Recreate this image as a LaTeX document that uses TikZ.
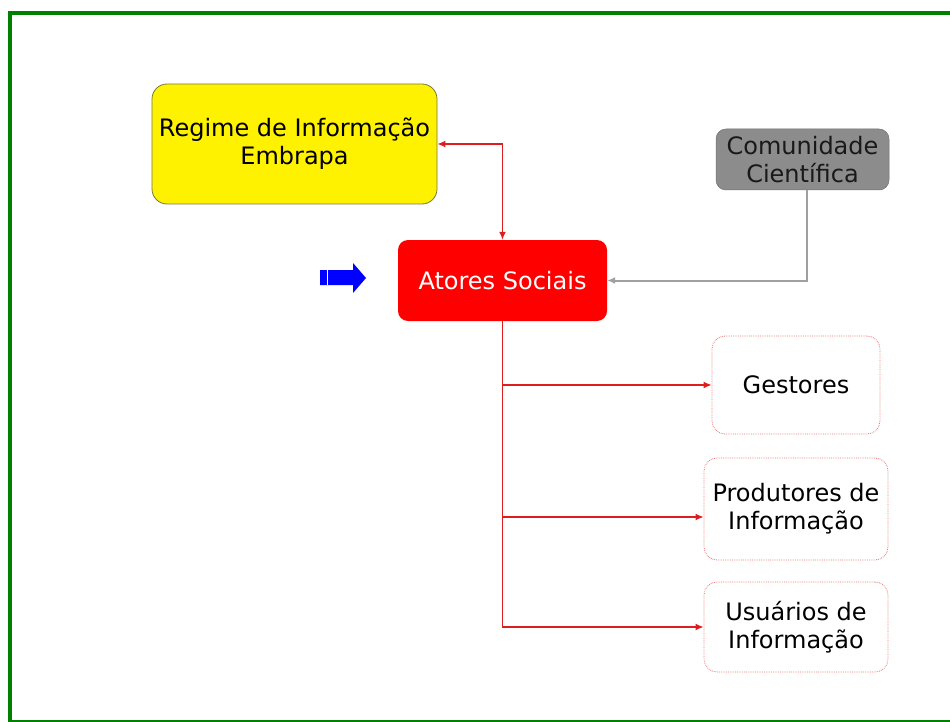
\documentclass[tikz,border=0pt]{standalone}
\usepackage{fontspec}
\setmainfont{DejaVu Sans}
\usetikzlibrary{arrows.meta}
\definecolor{frameGreen}{RGB}{0,128,0}
\definecolor{linkRed}{RGB}{222,30,30}
\definecolor{linkGray}{RGB}{160,160,160}
\definecolor{boxGray}{RGB}{140,140,140}
\definecolor{boxOlive}{RGB}{120,120,60}
\definecolor{dotRed}{RGB}{235,120,120}

\begin{document}
\begin{tikzpicture}[x=1pt, y=-1pt,
  every node/.style={font=\fontsize{24}{28}\selectfont, align=center, inner sep=0pt},
  regimebox/.style={draw=boxOlive, line width=0.8pt, fill=yellow, rounded corners=15pt},
  atorbox/.style={fill=red, text=white, rounded corners=10pt},
  comunbox/.style={draw=boxGray!80!black, line width=0.5pt, fill=boxGray, text=black!90, rounded corners=10pt},
  grupobox/.style={draw=dotRed, densely dotted, line width=0.8pt, rounded corners=13pt},
  redlink/.style={draw=linkRed, line width=1.4pt},
  graylink/.style={draw=linkGray, line width=2pt},
  tip/.style={-{Latex[length=8pt,width=7pt]}}]

  \useasboundingbox (0,0) rectangle (950,722);

  % frame
  \draw[frameGreen, line width=4pt] (8,13) -- (950,13);
  \draw[frameGreen, line width=4pt] (10,11) -- (10,722);
  \draw[frameGreen, line width=2pt] (8,721) -- (950,721);

  \node[regimebox, minimum width=285pt, minimum height=120pt] (regime) at (294.5,144) {Regime de Informação\\Embrapa};
  \node[atorbox, minimum width=209pt, minimum height=81pt] (atores) at (502.5,280.5) {Atores Sociais};
  \node[comunbox, minimum width=173pt, minimum height=61pt] (comun) at (802.5,159.5) {Comunidade\\Científica};

  \node[grupobox, minimum width=168pt, minimum height=98pt] (gestores) at (796,385) {Gestores};
  \node[grupobox, minimum width=184pt, minimum height=102pt] (produtores) at (796,509) {Produtores de\\Informação};
  \node[grupobox, minimum width=184pt, minimum height=90pt] (usuarios) at (796,627) {Usuários de\\Informação};

  % blue pointer
  \fill[blue] (320,270) -- (353,270) -- (353,263) -- (366,278) -- (353,293) -- (353,285) -- (320,285) -- cycle;
  \draw[white, line width=0.6pt] (327,270) -- (327,285);

  \draw[redlink, {Latex[length=8pt,width=7pt]}-{Latex[length=8pt,width=7pt]}] (regime.east) -| (atores.north); %% regime<->atores
  \draw[graylink, tip] ([xshift=4pt]comun.south) |- (atores.east); %% comunidade->atores

  \draw[redlink, tip] (atores.south) |- (gestores.west); %% atores->gestores
  \draw[redlink, tip] (atores.south) |- ([yshift=-8pt]produtores.west); %% atores->produtores
  \draw[redlink, tip] (atores.south) |- (usuarios.west); %% atores->usuarios
\end{tikzpicture}
\end{document}
